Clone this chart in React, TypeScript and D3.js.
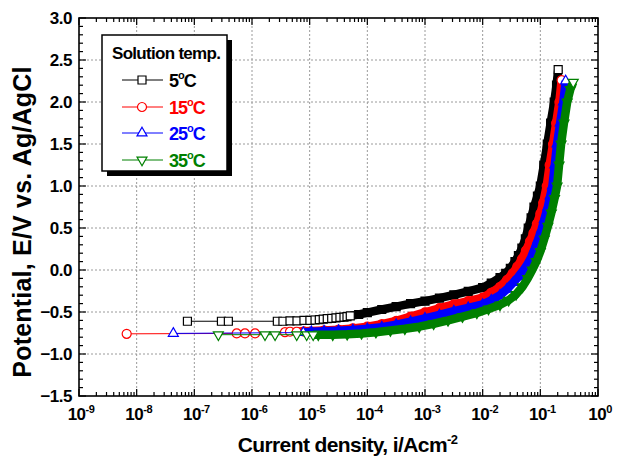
import React from 'react';
import * as d3 from 'd3';

const WIDTH = 621;
const HEIGHT = 462;
const PLOT = { left: 79, right: 598, top: 18, bottom: 396 };
const FONT = "'Liberation Sans', Arial, Helvetica, sans-serif";

// Solution temperatures (°C) and series colours
const temperatures = ['5', '15', '25', '35'];
const colors = ['#000000', '#ff0000', '#0000ff', '#008000'];

// Axis ticks
const potentialTicks = [-1.5, -1.0, -0.5, 0.0, 0.5, 1.0, 1.5, 2.0, 2.5, 3.0];
const decadeExponents = [-9, -8, -7, -6, -5, -4, -3, -2, -1, 0];

// 5 °C: current density (A/cm²) and potential (V vs. Ag/AgCl)
const current5 = [
  7.59e-8, 2.95e-7, 3.89e-7, 2.75e-6, 3.44e-6, 4.56e-6, 6.03e-6, 7.96e-6, 1.01e-5, 1.24e-5,
  1.47e-5, 1.72e-5, 2.02e-5, 2.41e-5, 2.86e-5, 3.35e-5, 3.94e-5, 4.44e-5, 5.06e-5,
  7.08e-5, 1.0e-4, 1.78e-4, 3.16e-4, 5.62e-4, 1.0e-3, 1.78e-3, 3.16e-3, 5.62e-3, 1.0e-2,
  1.41e-2, 2.0e-2, 2.51e-2, 3.02e-2, 3.63e-2, 4.17e-2, 4.79e-2, 5.5e-2, 6.17e-2, 6.92e-2,
  7.76e-2, 8.91e-2, 0.1, 0.115, 0.132, 0.151, 0.174, 0.191, 0.204,
];
const potential5 = [
  -0.61, -0.61, -0.61, -0.61, -0.61, -0.605, -0.605, -0.6, -0.6, -0.595,
  -0.59, -0.585, -0.58, -0.575, -0.57, -0.565, -0.56, -0.555, -0.545,
  -0.53, -0.508, -0.47, -0.436, -0.4, -0.37, -0.335, -0.296, -0.255, -0.21,
  -0.155, -0.09, -0.04, 0.02, 0.1, 0.17, 0.26, 0.37, 0.5, 0.62,
  0.75, 0.88, 1.0, 1.25, 1.5, 1.75, 2.0, 2.2, 2.386,
];
const isolated5 = 19;

// 15 °C
const current15 = [
  6.71e-9, 5.43e-7, 7.55e-7, 1.13e-6, 3.73e-6, 4.56e-6, 5.96e-6,
  7.94e-6, 1.78e-5, 3.16e-5, 5.62e-5, 1.0e-4, 1.78e-4, 3.16e-4, 5.62e-4, 1.0e-3, 1.78e-3,
  3.16e-3, 5.62e-3, 1.0e-2, 1.41e-2, 2.0e-2, 2.63e-2, 3.31e-2, 3.98e-2, 4.79e-2, 5.62e-2,
  6.61e-2, 7.59e-2, 8.71e-2, 0.1, 0.112, 0.129, 0.145, 0.166, 0.188, 0.214, 0.234,
];
const potential15 = [
  -0.76, -0.755, -0.755, -0.755, -0.74, -0.735, -0.735,
  -0.73, -0.72, -0.71, -0.695, -0.675, -0.645, -0.605, -0.555, -0.505, -0.455,
  -0.41, -0.37, -0.33, -0.27, -0.2, -0.12, -0.04, 0.04, 0.13, 0.23,
  0.34, 0.44, 0.55, 0.67, 0.8, 1.0, 1.25, 1.5, 1.75, 2.0, 2.26,
];
const isolated15 = 7;

// 25 °C
const current25 = [
  4.32e-8, 7.76e-6,
  1.07e-5, 1.78e-5, 3.16e-5, 5.62e-5, 1.0e-4, 1.78e-4, 3.16e-4, 5.62e-4, 1.0e-3, 1.78e-3,
  3.16e-3, 5.62e-3, 1.0e-2, 1.41e-2, 2.0e-2, 2.63e-2, 3.39e-2, 4.17e-2, 5.01e-2, 5.89e-2,
  6.92e-2, 7.94e-2, 9.12e-2, 0.105, 0.117, 0.135, 0.148, 0.162, 0.178, 0.195,
  0.221, 0.251, 0.275,
];
const potential25 = [
  -0.755, -0.745,
  -0.735, -0.73, -0.722, -0.714, -0.7, -0.68, -0.65, -0.615, -0.575, -0.535,
  -0.49, -0.45, -0.41, -0.36, -0.3, -0.23, -0.15, -0.08, -0.01, 0.06,
  0.15, 0.25, 0.36, 0.48, 0.6, 0.75, 0.88, 1.0, 1.25, 1.5,
  1.75, 2.0, 2.25,
];
const isolated25 = 2;

// 35 °C
const current35 = [
  2.61e-7, 1.68e-6, 2.51e-6, 5.96e-6, 8.87e-6, 1.15e-5,
  1.41e-5, 2.51e-5, 4.47e-5, 7.94e-5, 1.41e-4, 2.51e-4, 4.47e-4, 7.94e-4, 1.41e-3, 2.51e-3,
  4.47e-3, 7.94e-3, 1.26e-2, 2.0e-2, 2.82e-2, 3.8e-2, 4.9e-2, 6.03e-2, 7.24e-2, 8.51e-2,
  0.1, 0.117, 0.135, 0.155, 0.176, 0.195, 0.211, 0.229, 0.257, 0.292,
  0.331, 0.372,
];
const potential35 = [
  -0.77, -0.77, -0.77, -0.77, -0.77, -0.77,
  -0.77, -0.77, -0.765, -0.755, -0.74, -0.72, -0.7, -0.675, -0.64, -0.6,
  -0.555, -0.51, -0.465, -0.415, -0.36, -0.29, -0.2, -0.1, 0.0, 0.1,
  0.22, 0.37, 0.52, 0.68, 0.85, 1.0, 1.25, 1.5, 1.75, 2.0,
  2.15, 2.236,
];
const isolated35 = 6;

type Shape = 'square' | 'circle' | 'triangleUp' | 'triangleDown';

const series = [
  { label: temperatures[0], color: colors[0], shape: 'square' as Shape, current: current5, potential: potential5, isolated: isolated5 },
  { label: temperatures[1], color: colors[1], shape: 'circle' as Shape, current: current15, potential: potential15, isolated: isolated15 },
  { label: temperatures[2], color: colors[2], shape: 'triangleUp' as Shape, current: current25, potential: potential25, isolated: isolated25 },
  { label: temperatures[3], color: colors[3], shape: 'triangleDown' as Shape, current: current35, potential: potential35, isolated: isolated35 },
];

const symbolPath = (shape: Shape): string => {
  const gen = d3.symbol();
  if (shape === 'square') return gen.type(d3.symbolSquare).size(64)() as string;
  if (shape === 'circle') return gen.type(d3.symbolCircle).size(64)() as string;
  return gen.type(d3.symbolTriangle).size(43)() as string;
};

const Marker = ({ shape, cx, cy, stroke, fill }: { shape: Shape; cx: number; cy: number; stroke: string; fill: string }) => (
  <path
    d={symbolPath(shape)}
    transform={`translate(${cx},${cy})${shape === 'triangleDown' ? ' rotate(180)' : ''}`}
    fill={fill}
    stroke={stroke}
    strokeWidth={1.2}
  />
);

export default function App() {
  const x = d3.scaleLog().domain([1e-9, 1]).range([PLOT.left, PLOT.right]);
  const y = d3.scaleLinear().domain([-1.5, 3.0]).range([PLOT.bottom, PLOT.top]);

  const line = d3
    .line<[number, number]>()
    .x((d) => x(d[0]))
    .y((d) => y(d[1]));

  const minorY = d3.range(-15, 31).map((k) => k / 10).filter((v) => Math.abs(v * 2 - Math.round(v * 2)) > 1e-6);
  const minorX: number[] = [];
  decadeExponents.slice(0, -1).forEach((e) => {
    for (let m = 2; m <= 9; m++) minorX.push(m * Math.pow(10, e));
  });

  const MAJOR = 7;
  const MINOR = 4;

  const legendRows = [80, 107, 133, 160];

  return (
    <svg
      width={WIDTH}
      height={HEIGHT}
      style={{ position: 'absolute', left: 0, top: 0, background: '#fff' }}
      fontFamily={FONT}
    >
      <rect x={0} y={0} width={WIDTH} height={HEIGHT} fill="#fff" />

      {/* grid */}
      <g stroke="#9a9a9a" strokeWidth={1} strokeDasharray="2,2">
        {potentialTicks.slice(1, -1).map((v) => (
          <line key={`gy${v}`} x1={PLOT.left} x2={PLOT.right} y1={y(v)} y2={y(v)} />
        ))}
        {decadeExponents.slice(1, -1).map((e) => (
          <line key={`gx${e}`} x1={x(Math.pow(10, e))} x2={x(Math.pow(10, e))} y1={PLOT.top} y2={PLOT.bottom} />
        ))}
      </g>

      {/* polarization curves */}
      {series.map((s) => {
        const pts: [number, number][] = s.current.map((c, i) => [c, s.potential[i]]);
        const sweep = pts.slice(s.isolated - 1);
        const last = pts[pts.length - 1];
        return (
          <g key={s.label}>
            <path d={line(pts) as string} fill="none" stroke={s.color} strokeWidth={1} />
            <path
              d={line(sweep) as string}
              fill="none"
              stroke={s.color}
              strokeWidth={8.5}
              strokeLinejoin="round"
            />
            {pts.slice(s.isolated, -1).map((p, i) => (
              <Marker key={`d${i}`} shape={s.shape} cx={x(p[0])} cy={y(p[1])} stroke={s.color} fill={s.color} />
            ))}
            {pts.slice(0, s.isolated).map((p, i) => (
              <Marker key={`s${i}`} shape={s.shape} cx={x(p[0])} cy={y(p[1])} stroke={s.color} fill="#fff" />
            ))}
            <Marker shape={s.shape} cx={x(last[0])} cy={y(last[1])} stroke={s.color} fill="#fff" />
          </g>
        );
      })}

      {/* ticks */}
      <g stroke="#000" strokeWidth={1.2}>
        {potentialTicks.map((v) => (
          <g key={`ty${v}`}>
            <line x1={PLOT.left} x2={PLOT.left + MAJOR} y1={y(v)} y2={y(v)} />
            <line x1={PLOT.right} x2={PLOT.right - MAJOR} y1={y(v)} y2={y(v)} />
          </g>
        ))}
        {minorY.map((v) => (
          <g key={`my${v}`}>
            <line x1={PLOT.left} x2={PLOT.left + MINOR} y1={y(v)} y2={y(v)} />
            <line x1={PLOT.right} x2={PLOT.right - MINOR} y1={y(v)} y2={y(v)} />
          </g>
        ))}
        {decadeExponents.map((e) => {
          const px = x(Math.pow(10, e));
          return (
            <g key={`tx${e}`}>
              <line x1={px} x2={px} y1={PLOT.bottom} y2={PLOT.bottom - MAJOR} />
              <line x1={px} x2={px} y1={PLOT.top} y2={PLOT.top + MAJOR} />
            </g>
          );
        })}
        {minorX.map((v, i) => (
          <g key={`mx${i}`}>
            <line x1={x(v)} x2={x(v)} y1={PLOT.bottom} y2={PLOT.bottom - MINOR} />
            <line x1={x(v)} x2={x(v)} y1={PLOT.top} y2={PLOT.top + MINOR} />
          </g>
        ))}
      </g>

      {/* frame */}
      <rect
        x={PLOT.left}
        y={PLOT.top}
        width={PLOT.right - PLOT.left}
        height={PLOT.bottom - PLOT.top}
        fill="none"
        stroke="#000"
        strokeWidth={1.6}
      />

      {/* tick labels */}
      <g fontWeight="bold" fontSize={17} fill="#000">
        {potentialTicks.map((v) => (
          <text key={`ly${v}`} x={PLOT.left - 7} y={y(v)} textAnchor="end" dominantBaseline="central" letterSpacing={-0.5}>
            {d3.format('.1f')(v)}
          </text>
        ))}
        {decadeExponents.map((e) => (
          <text key={`lx${e}`} x={x(Math.pow(10, e)) + 2} y={420} textAnchor="middle" letterSpacing={-0.5}>
            10
            <tspan dy={-7} fontSize={11}>
              {e}
            </tspan>
          </text>
        ))}
      </g>

      {/* axis titles */}
      <text
        x={(PLOT.left + PLOT.right) / 2 + 9}
        y={452}
        textAnchor="middle"
        fontWeight="bold"
        fontSize={21}
        letterSpacing={-0.6}
      >
        Current density, i/Acm
        <tspan dy={-8} fontSize={13}>
          -2
        </tspan>
      </text>
      <text
        transform={`translate(31, 222) rotate(-90)`}
        textAnchor="middle"
        fontWeight="bold"
        fontSize={25}
        letterSpacing={0.2}
      >
        Potential, E/V vs. Ag/AgCl
      </text>

      {/* legend */}
      <g>
        <rect x={107} y={40} width={125} height={136} fill="#000" />
        <rect x={102} y={35} width={125} height={136} fill="#fff" stroke="#000" strokeWidth={1.5} />
        <text x={112} y={59} fontWeight="bold" fontSize={17} letterSpacing={-0.7}>
          Solution temp.
        </text>
        {series.map((s, i) => {
          const cy = legendRows[i];
          return (
            <g key={`lg${s.label}`}>
              <line x1={122} x2={163} y1={cy} y2={cy} stroke={s.color} strokeWidth={1} />
              <Marker shape={s.shape} cx={142} cy={cy} stroke={s.color} fill="#fff" />
              <text x={169} y={cy + 7} fontWeight="bold" fontSize={18} fill={s.color} letterSpacing={-1}>
                {s.label}
                <tspan dy={-8} fontSize={11}>
                  o
                </tspan>
                <tspan dy={8}>C</tspan>
              </text>
            </g>
          );
        })}
      </g>
    </svg>
  );
}
